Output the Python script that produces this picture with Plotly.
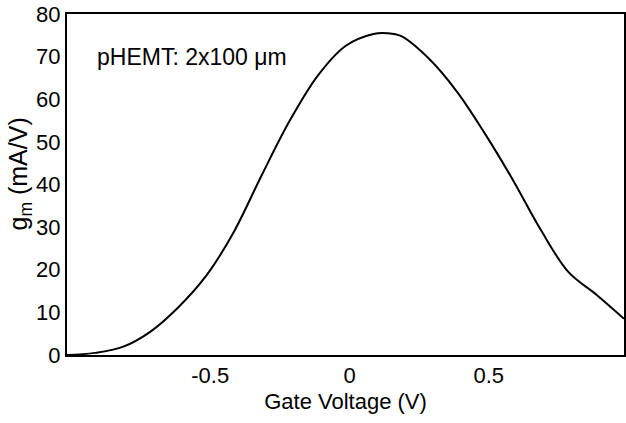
import plotly.graph_objects as go

gate_voltage = [-1.0, -0.9, -0.8, -0.7, -0.6, -0.5, -0.4, -0.3, -0.2, -0.1,
                0.0, 0.1, 0.15, 0.2, 0.3, 0.4, 0.5, 0.6, 0.7, 0.8, 0.9, 1.0]
gm = [0.0, 0.5, 1.9, 5.5, 11.2, 18.6, 29.0, 42.3, 55.0, 65.5,
      72.5, 75.3, 75.5, 74.8, 69.5, 61.8, 52.0, 41.2, 29.5, 19.5, 14.2, 8.5]

x_ticks = [-0.5, 0, 0.5, 1]
x_ticklabels = ["-0.5", "0", "0.5", "1"]
y_ticks = [0, 10, 20, 30, 40, 50, 60, 70, 80]

font_family = "Liberation Sans, Arial, Helvetica, sans-serif"

fig = go.Figure()
fig.add_trace(go.Scatter(
    x=gate_voltage, y=gm, mode="lines",
    line=dict(color="black", width=2, shape="spline", smoothing=1.0),
    showlegend=False,
))

fig.add_annotation(
    text="pHEMT: 2x100 \u03bcm", xref="paper", yref="paper",
    x=0.05, y=0.874, xanchor="left", yanchor="middle", showarrow=False,
    font=dict(size=23, color="black", family=font_family),
)

fig.add_annotation(
    text="g<sub>m</sub> (mA/V)", xref="paper", yref="paper",
    x=-0.084, y=0.53, xanchor="center", yanchor="middle", showarrow=False,
    textangle=-90,
    font=dict(size=25, color="black", family=font_family),
)

fig.update_layout(
    width=626, height=423,
    margin=dict(l=67, r=2, t=14, b=68),
    paper_bgcolor="white", plot_bgcolor="white",
    font=dict(family=font_family, color="black"),
    xaxis=dict(
        range=[-1, 1], tickvals=x_ticks, ticktext=x_ticklabels,
        showgrid=False, zeroline=False, showline=True, mirror=True,
        linecolor="black", linewidth=2, ticks="",
        tickfont=dict(size=22), automargin=False, ticklabelshift=4,
        title=dict(text="Gate Voltage (V)", font=dict(size=22), standoff=6),
    ),
    yaxis=dict(
        range=[0, 80], tickvals=y_ticks,
        showgrid=False, zeroline=False, showline=True, mirror=True,
        linecolor="black", linewidth=2, ticks="",
        tickfont=dict(size=22), automargin=False,
    ),
)

fig.write_html("out.html", config={"displayModeBar": False},
               post_script="document.body.style.margin='0';")
